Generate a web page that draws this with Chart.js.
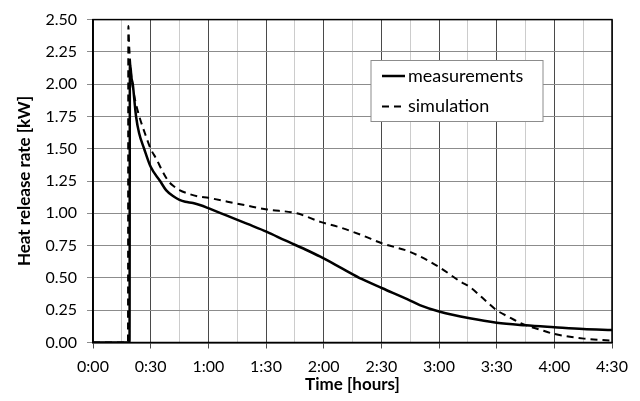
<!DOCTYPE html>
<html>
<head>
<meta charset="utf-8">
<script src="https://cdn.jsdelivr.net/npm/chart.js@4"></script>
<style>
html,body{margin:0;padding:0;background:#fff;}
canvas{display:block;}
</style>
</head>
<body>
<canvas id="c" width="640" height="401"></canvas>
<script>
// Time in minutes, heat release rate in kW
const measTime = [0, 19.0, 19.2, 19.6, 20.0, 20.7, 21.5, 22.4, 24, 26.6, 30, 34.9, 38, 42, 45, 48, 52, 56, 60, 70, 80, 90.5, 100, 110.5, 118.3, 130, 140, 150.5, 163.7, 170, 180.5, 196, 210, 225, 240, 255, 270];
const measValue = [0, 0, 2.15, 2.12, 2.05, 2.0, 1.88, 1.75, 1.62, 1.5, 1.36, 1.25, 1.18, 1.13, 1.105, 1.09, 1.08, 1.063, 1.04, 0.98, 0.92, 0.857, 0.79, 0.72, 0.664, 0.57, 0.49, 0.42, 0.334, 0.29, 0.238, 0.187, 0.153, 0.133, 0.118, 0.104, 0.097];
const simTime = [0, 18.2, 18.4, 18.8, 19.3, 20, 21, 22, 24.1, 27, 30, 33, 36, 39.2, 42, 45, 50, 55, 60, 70, 80, 90.5, 106, 118.3, 128.7, 140, 150.5, 165.2, 179.8, 191.3, 196, 203, 210, 216, 222.5, 233, 240, 255.5, 270];
const simValue = [0, 0, 2.45, 2.3, 2.18, 2.05, 1.95, 1.87, 1.75, 1.62, 1.5, 1.42, 1.33, 1.25, 1.21, 1.18, 1.15, 1.13, 1.12, 1.09, 1.06, 1.03, 1.0, 0.934, 0.89, 0.83, 0.767, 0.70, 0.586, 0.47, 0.43, 0.34, 0.25, 0.20, 0.15, 0.097, 0.066, 0.03, 0.015];
const seriesLabels = ['measurements', 'simulation'];
const xTitle = 'Time [hours]';
const yTitle = 'Heat release rate [kW]';

function fmtTime(v){
  const h = Math.floor(v/60), m = Math.round(v%60);
  return h + ':' + (m<10?'0':'') + m;
}
const toPts = (t,v) => t.map((x,i)=>({x:x, y:v[i]}));

const FONT = 'Lato, "Open Sans", sans-serif';

const frameAndLegend = {
  id: 'frameAndLegend',
  afterDraw(chart){
    const {ctx, chartArea: a} = chart;
    ctx.save();
    ctx.strokeStyle = '#000';
    ctx.lineWidth = 1.5;
    ctx.strokeRect(a.left, a.top, a.right - a.left, a.bottom - a.top);
    // legend box
    const bx = 371, by = 60.5, bw = 172, bh = 61;
    ctx.fillStyle = '#fff';
    ctx.fillRect(bx, by, bw, bh);
    ctx.strokeStyle = '#8c8c8c';
    ctx.lineWidth = 1;
    ctx.strokeRect(bx, by, bw, bh);
    const rows = [76, 106.5];
    chart.data.datasets.forEach((ds, i) => {
      const y = rows[i];
      ctx.beginPath();
      ctx.strokeStyle = '#000';
      ctx.lineWidth = ds.borderWidth;
      ctx.setLineDash(ds.borderDash || []);
      ctx.moveTo(382, y);
      ctx.lineTo(405, y);
      ctx.stroke();
      ctx.setLineDash([]);
      ctx.fillStyle = '#000';
      ctx.font = '18px ' + FONT;
      ctx.textBaseline = 'middle';
      ctx.textAlign = 'left';
      ctx.fillText(ds.label, 408, y);
    });
    ctx.restore();
  }
};

new Chart(document.getElementById('c'), {
  type: 'line',
  data: {
    datasets: [
      { label: seriesLabels[0], data: toPts(measTime, measValue), borderColor: '#000', borderWidth: 2.5, pointRadius: 0, cubicInterpolationMode: 'monotone', fill: false },
      { label: seriesLabels[1], data: toPts(simTime, simValue), borderColor: '#000', borderWidth: 2, borderDash: [7, 5], pointRadius: 0, cubicInterpolationMode: 'monotone', fill: false }
    ]
  },
  options: {
    responsive: false,
    animation: false,
    layout: { padding: { top: 18, right: 28, left: 0, bottom: 0 } },
    plugins: { legend: { display: false }, tooltip: { enabled: false } },
    scales: {
      x: {
        type: 'linear', min: 0, max: 270,
        afterFit(s){ s.height = 58.5; },
        ticks: {
          stepSize: 15, autoSkip: false, maxRotation: 0, padding: 9,
          color: '#000', font: { family: FONT, size: 16 },
          callback: v => (v % 30 === 0 ? fmtTime(v) : '')
        },
        grid: {
          color: c => (c.tick && c.tick.value % 30 === 0 ? '#4a4a4a' : '#cccccc'),
          tickColor: c => (c.tick && c.tick.value % 30 === 0 ? '#4a4a4a' : 'rgba(0,0,0,0)'),
          tickLength: 6, lineWidth: 1
        },
        border: { color: '#000', width: 1.5 },
        title: { display: true, text: xTitle, color: '#000', font: { family: FONT, size: 17, weight: 'bold' }, padding: { top: 0, bottom: 6 } }
      },
      y: {
        min: 0, max: 2.5,
        afterFit(s){ s.width = 93; },
        ticks: {
          stepSize: 0.25, padding: 10, color: '#000', font: { family: FONT, size: 16 },
          callback: v => v.toFixed(2)
        },
        grid: { color: '#8c8c8c', tickColor: '#8c8c8c', tickLength: 6, lineWidth: 1 },
        border: { color: '#000', width: 1.5 },
        title: { display: true, text: yTitle, color: '#000', font: { family: FONT, size: 17, weight: 'bold' }, padding: { top: 14, bottom: 0 } }
      }
    }
  },
  plugins: [frameAndLegend]
});
</script>
</body>
</html>
